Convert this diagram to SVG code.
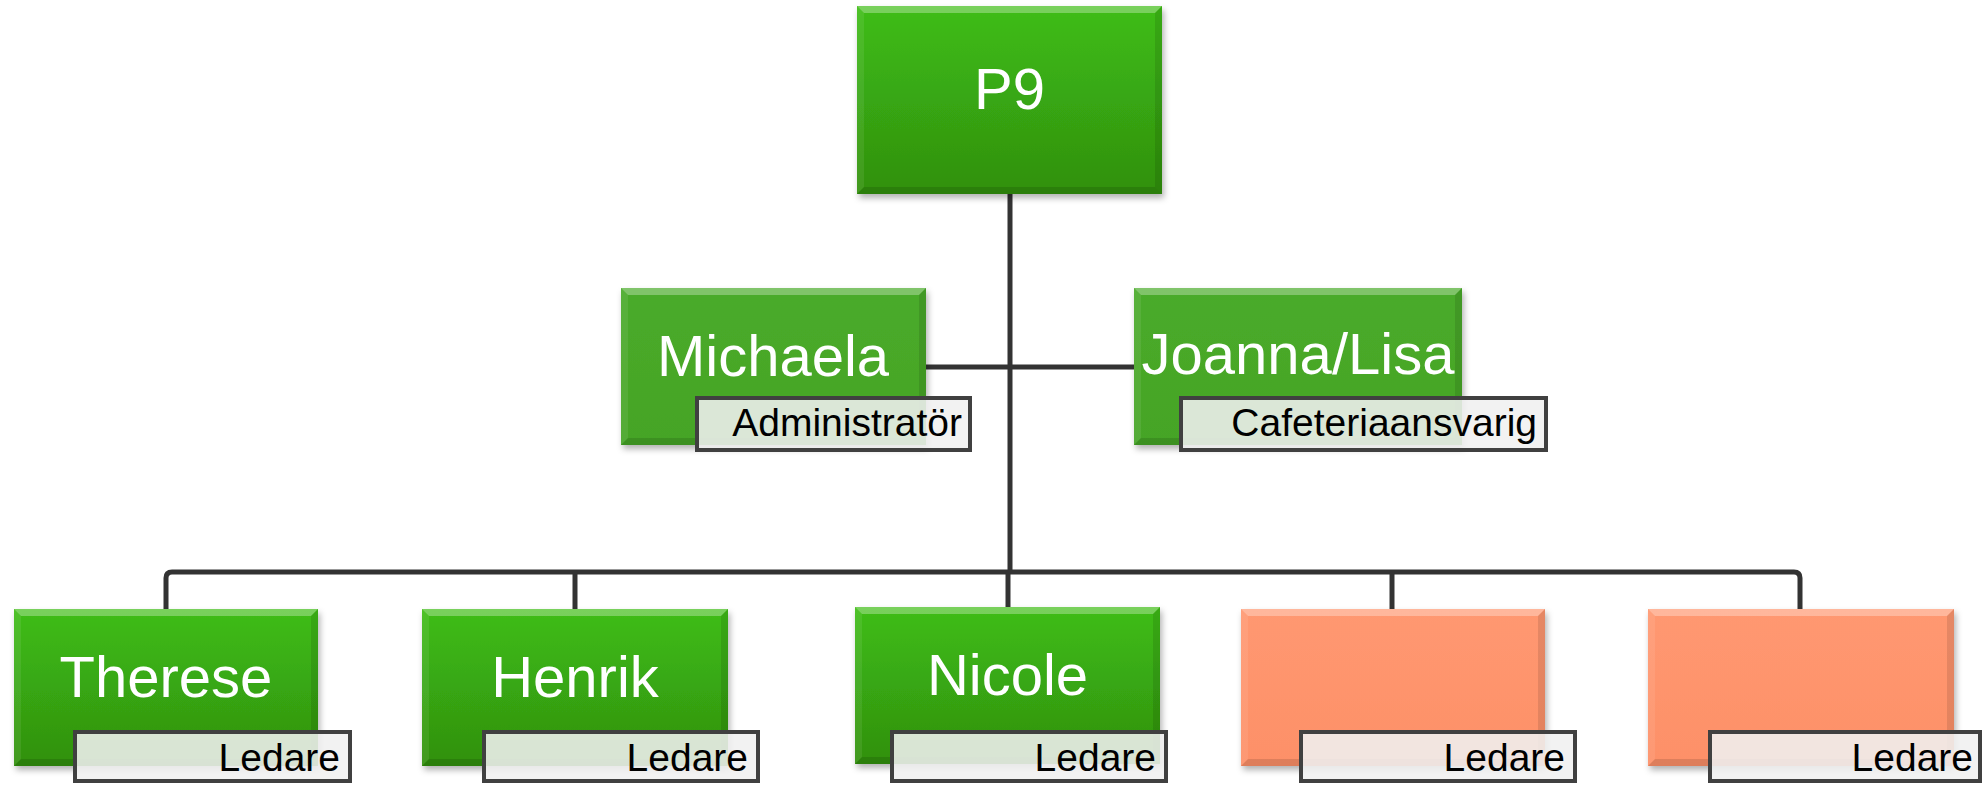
<svg xmlns="http://www.w3.org/2000/svg" width="1984" height="785" viewBox="0 0 1984 785">
<defs>
<linearGradient id="gGreen" x1="0" y1="0" x2="0" y2="1">
<stop offset="0" stop-color="#3fbd15"/>
<stop offset="1" stop-color="#30900f"/>
</linearGradient>
<linearGradient id="gMid" x1="0" y1="0" x2="0" y2="1">
<stop offset="0" stop-color="#4aab2a"/>
<stop offset="1" stop-color="#45a426"/>
</linearGradient>
<linearGradient id="gOrange" x1="0" y1="0" x2="0" y2="1">
<stop offset="0" stop-color="#ff9871"/>
<stop offset="1" stop-color="#fd9068"/>
</linearGradient>
<filter id="shadow" x="-10%" y="-10%" width="125%" height="130%">
<feDropShadow dx="2" dy="4" stdDeviation="3" flood-color="#000" flood-opacity="0.3"/>
</filter>
</defs>
<style>
.conn{fill:none;stroke:#333333;stroke-width:5;stroke-linejoin:round}
.green{fill:url(#gGreen)}
.mid{fill:url(#gMid)}
.orange{fill:url(#gOrange)}
.bt{fill:#ffffff;opacity:0.3}
.bl{fill:#ffffff;opacity:0.08}
.br{fill:#000000;opacity:0.1}
.bb{fill:#000000;opacity:0.12}
.name{font-family:"Liberation Sans",Arial,sans-serif;font-size:58px;fill:#ffffff;text-anchor:middle}
.lab{fill:#f0f0f0;fill-opacity:0.88;stroke:#404040;stroke-width:4}
.labt{font-family:"Liberation Sans",Arial,sans-serif;font-size:39px;fill:#000000;text-anchor:end}
</style>
<rect width="1984" height="785" fill="#ffffff"/>

<g id="connectors">
<path class="conn" d="M1010,194 V572"/>
<path class="conn" d="M926,367 H1134"/>
<path class="conn" d="M166,609 V578 Q166,572 172,572 H1794 Q1800,572 1800,578 V609"/>
<path class="conn" d="M575,572 V609"/>
<path class="conn" d="M1008,572 V607"/>
<path class="conn" d="M1392,572 V609"/>
</g>

<g id="node-p9">
<rect class="green" x="857" y="6" width="305" height="188" filter="url(#shadow)"/>
<polygon class="bt" points="857,6 1162,6 1155,13 864,13"/>
<polygon class="bl" points="857,6 864,13 864,187 857,194"/>
<polygon class="br" points="1162,6 1162,194 1155,187 1155,13"/>
<polygon class="bb" points="857,194 1162,194 1155,187 864,187"/>
<text class="name" x="1009.5" y="109">P9</text>
</g>

<g id="node-michaela">
<rect class="mid" x="621" y="288" width="305" height="157" filter="url(#shadow)"/>
<polygon class="bt" points="621,288 926,288 919,295 628,295"/>
<polygon class="bl" points="621,288 628,295 628,438 621,445"/>
<polygon class="br" points="926,288 926,445 919,438 919,295"/>
<polygon class="bb" points="621,445 926,445 919,438 628,438"/>
<text class="name" x="773" y="376">Michaela</text>
<rect class="lab" x="697" y="398" width="273" height="52"/>
<text class="labt" x="962" y="436">Administratör</text>
</g>

<g id="node-joanna">
<rect class="mid" x="1134" y="288" width="328" height="157" filter="url(#shadow)"/>
<polygon class="bt" points="1134,288 1462,288 1455,295 1141,295"/>
<polygon class="bl" points="1134,288 1141,295 1141,438 1134,445"/>
<polygon class="br" points="1462,288 1462,445 1455,438 1455,295"/>
<polygon class="bb" points="1134,445 1462,445 1455,438 1141,438"/>
<text class="name" x="1298" y="374">Joanna/Lisa</text>
<rect class="lab" x="1181" y="398" width="365" height="52"/>
<text class="labt" x="1537" y="436">Cafeteriaansvarig</text>
</g>

<g id="node-therese">
<rect class="green" x="14" y="609" width="304" height="157" filter="url(#shadow)"/>
<polygon class="bt" points="14,609 318,609 311,616 21,616"/>
<polygon class="bl" points="14,609 21,616 21,759 14,766"/>
<polygon class="br" points="318,609 318,766 311,759 311,616"/>
<polygon class="bb" points="14,766 318,766 311,759 21,759"/>
<text class="name" x="166" y="697">Therese</text>
<rect class="lab" x="75" y="732" width="275" height="49"/>
<text class="labt" x="340" y="771">Ledare</text>
</g>

<g id="node-henrik">
<rect class="green" x="422" y="609" width="306" height="157" filter="url(#shadow)"/>
<polygon class="bt" points="422,609 728,609 721,616 429,616"/>
<polygon class="bl" points="422,609 429,616 429,759 422,766"/>
<polygon class="br" points="728,609 728,766 721,759 721,616"/>
<polygon class="bb" points="422,766 728,766 721,759 429,759"/>
<text class="name" x="575" y="697">Henrik</text>
<rect class="lab" x="484" y="732" width="274" height="49"/>
<text class="labt" x="748" y="771">Ledare</text>
</g>

<g id="node-nicole">
<rect class="green" x="855" y="607" width="305" height="157" filter="url(#shadow)"/>
<polygon class="bt" points="855,607 1160,607 1153,614 862,614"/>
<polygon class="bl" points="855,607 862,614 862,757 855,764"/>
<polygon class="br" points="1160,607 1160,764 1153,757 1153,614"/>
<polygon class="bb" points="855,764 1160,764 1153,757 862,757"/>
<text class="name" x="1007.5" y="695">Nicole</text>
<rect class="lab" x="892" y="732" width="274" height="49"/>
<text class="labt" x="1156" y="771">Ledare</text>
</g>

<g id="node-orange1">
<rect class="orange" x="1241" y="609" width="304" height="157" filter="url(#shadow)"/>
<polygon class="bt" points="1241,609 1545,609 1538,616 1248,616"/>
<polygon class="bl" points="1241,609 1248,616 1248,759 1241,766"/>
<polygon class="br" points="1545,609 1545,766 1538,759 1538,616"/>
<polygon class="bb" points="1241,766 1545,766 1538,759 1248,759"/>
<rect class="lab" x="1301" y="732" width="274" height="49"/>
<text class="labt" x="1565" y="771">Ledare</text>
</g>

<g id="node-orange2">
<rect class="orange" x="1648" y="609" width="306" height="157" filter="url(#shadow)"/>
<polygon class="bt" points="1648,609 1954,609 1947,616 1655,616"/>
<polygon class="bl" points="1648,609 1655,616 1655,759 1648,766"/>
<polygon class="br" points="1954,609 1954,766 1947,759 1947,616"/>
<polygon class="bb" points="1648,766 1954,766 1947,759 1655,759"/>
<rect class="lab" x="1710" y="732" width="270" height="49"/>
<text class="labt" x="1973" y="771">Ledare</text>
</g>
</svg>
